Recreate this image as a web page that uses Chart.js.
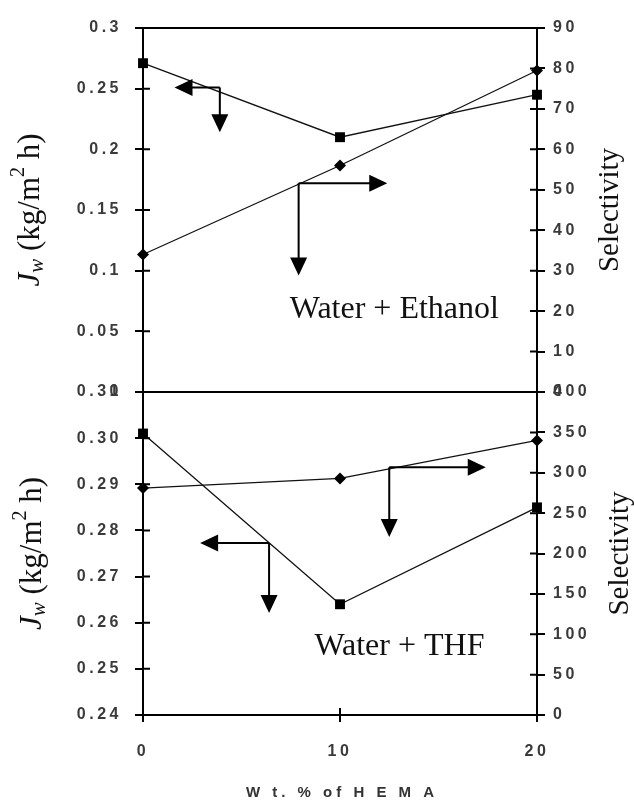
<!DOCTYPE html>
<html>
<head>
<meta charset="utf-8">
<script src="https://cdn.jsdelivr.net/npm/chart.js@4.4.0/dist/chart.umd.min.js"></script>
<style>
  body { margin: 0; background: #fff; }
  #wrap { position: relative; width: 634px; height: 803px; }
  canvas { position: absolute; left: 0; }
  #top { top: 0; }
  #bottom { top: 362px; }
</style>
</head>
<body>
<div id="wrap">
  <canvas id="top" width="634" height="422"></canvas>
  <canvas id="bottom" width="634" height="441"></canvas>
</div>
<script>
// wt.% of HEMA
const hema = [0, 10, 20];
// water + ethanol
const fluxEthanol = [0.271, 0.210, 0.245];
const selEthanol = [34, 56, 79.5];
// water + THF
const fluxThf = [0.301, 0.264, 0.285];
const selThf = [281, 293, 340];

const xTicks = [0, 10, 20];

const SERIF = '"Liberation Serif", "Times New Roman", serif';
const SANS = '"Liberation Sans", Arial, sans-serif';

function pts(xs, ys) {
  return xs.map((x, i) => ({ x: x, y: ys[i] }));
}

function head(ctx, x, y, dir) {
  const L = 18, H = 8.5;
  ctx.beginPath();
  ctx.moveTo(x, y);
  if (dir == 'left') { ctx.lineTo(x + L, y - H); ctx.lineTo(x + L, y + H); }
  if (dir == 'right') { ctx.lineTo(x - L, y - H); ctx.lineTo(x - L, y + H); }
  if (dir == 'down') { ctx.lineTo(x - H, y - L); ctx.lineTo(x + H, y - L); }
  ctx.closePath();
  ctx.fill();
}

// text with sub/superscript parts, centred at 0,0
function drawParts(ctx, parts) {
  let total = 0;
  parts.forEach(p => { ctx.font = p.font; total += ctx.measureText(p.t).width; });
  let x = -total / 2;
  parts.forEach(p => {
    ctx.font = p.font;
    ctx.fillText(p.t, x, p.dy || 0);
    x += ctx.measureText(p.t).width;
  });
}

const decor = {
  id: 'decor',
  beforeDraw(chart) {
    chart.ctx.letterSpacing = '3.5px';
  },
  afterDraw(chart, args, opts) {
    const ctx = chart.ctx;
    const a = chart.chartArea;
    const xs = chart.scales.x, yl = chart.scales.yL, yr = chart.scales.yR;
    ctx.save();
    ctx.letterSpacing = '0px';
    ctx.strokeStyle = '#000';
    ctx.fillStyle = '#000';
    ctx.lineWidth = 2;
    ctx.strokeRect(a.left, a.top, a.right - a.left, a.bottom - a.top);

    // inner halves of the tick marks
    ctx.beginPath();
    yl.ticks.forEach(t => {
      const y = yl.getPixelForValue(t.value);
      ctx.moveTo(a.left, y); ctx.lineTo(a.left + 7, y);
    });
    yr.ticks.forEach(t => {
      const y = yr.getPixelForValue(t.value);
      ctx.moveTo(a.right - 7, y); ctx.lineTo(a.right, y);
    });
    if (opts.xTitle) {
      xs.ticks.forEach(t => {
        const x = xs.getPixelForValue(t.value);
        ctx.moveTo(x, a.bottom - 7); ctx.lineTo(x, a.bottom);
      });
    }
    ctx.stroke();

    // arrows pointing at the axis each curve belongs to
    opts.arrows.forEach(ar => {
      const cx = xs.getPixelForValue(ar.x), cy = yl.getPixelForValue(ar.y);
      const hx = xs.getPixelForValue(ar.hx), vy = yl.getPixelForValue(ar.vy);
      const dir = hx < cx ? 'left' : 'right';
      ctx.beginPath();
      ctx.moveTo(cx, cy); ctx.lineTo(hx + (dir == 'left' ? 10 : -10), cy);
      ctx.moveTo(cx, cy); ctx.lineTo(cx, vy - 10);
      ctx.stroke();
      head(ctx, hx, cy, dir);
      head(ctx, cx, vy, 'down');
    });

    // panel label
    ctx.fillStyle = '#111';
    ctx.font = '32px ' + SERIF;
    ctx.textAlign = 'left';
    ctx.textBaseline = 'alphabetic';
    ctx.fillText(opts.label.text, xs.getPixelForValue(opts.label.x), yl.getPixelForValue(opts.label.y));

    // axis titles
    const cy = (a.top + a.bottom) / 2;
    ctx.textAlign = 'left';
    ctx.textBaseline = 'middle';
    ctx.save();
    ctx.translate(opts.leftX, cy);
    ctx.rotate(-Math.PI / 2);
    drawParts(ctx, [
      { t: 'J', font: 'italic 31px ' + SERIF },
      { t: 'w', font: 'italic 21px ' + SERIF, dy: 6 },
      { t: ' (kg/m', font: '31px ' + SERIF },
      { t: '2', font: '20px ' + SERIF, dy: -12 },
      { t: ' h)', font: '31px ' + SERIF }
    ]);
    ctx.restore();
    ctx.save();
    ctx.translate(opts.rightX, cy);
    ctx.rotate(-Math.PI / 2);
    drawParts(ctx, [{ t: 'Selectivity', font: '29px ' + SERIF }]);
    ctx.restore();

    if (opts.xTitle) {
      ctx.fillStyle = '#333';
      ctx.font = 'bold 15px ' + SANS;
      ctx.letterSpacing = '4px';
      ctx.textAlign = 'center';
      ctx.fillText('W t. % of H E M A', (a.left + a.right) / 2 + 2, 793 - 362);
    }
    ctx.restore();
    ctx.letterSpacing = '0px';
  }
};

function makeChart(id, flux, sel, cfg) {
  const tickFont = { family: SANS, size: 16, weight: 'bold' };
  const tickColor = '#3a3a3a';
  return new Chart(document.getElementById(id), {
    type: 'line',
    data: {
      datasets: [
        {
          data: pts(hema, flux), yAxisID: 'yL', clip: false,
          borderColor: '#111', borderWidth: 1.3, backgroundColor: '#000',
          pointStyle: 'rect', pointRadius: 7, pointBorderWidth: 0
        },
        {
          data: pts(hema, sel), yAxisID: 'yR', clip: false,
          borderColor: '#111', borderWidth: 1.3, backgroundColor: '#000',
          pointStyle: 'rectRot', pointRadius: 6, pointBorderWidth: 0
        }
      ]
    },
    options: {
      responsive: false,
      animation: false,
      layout: { padding: cfg.padding },
      plugins: { legend: { display: false }, tooltip: { enabled: false }, decor: cfg.decor },
      scales: {
        x: {
          type: 'linear', min: 0, max: 20,
          display: cfg.showX,
          afterBuildTicks: s => { s.ticks = xTicks.map(v => ({ value: v })); },
          afterFit: s => { s.height = cfg.showX ? 88 : 0; },
          border: { display: false },
          grid: { drawOnChartArea: false, drawTicks: true, tickLength: 7, color: '#000', lineWidth: 2 },
          ticks: { font: tickFont, color: tickColor, padding: 20, maxRotation: 0 }
        },
        yL: {
          position: 'left', min: cfg.left.min, max: cfg.left.max,
          afterFit: s => { s.width = 143; },
          border: { display: false },
          grid: { drawOnChartArea: false, drawTicks: true, tickLength: 8, color: '#000', lineWidth: 2 },
          ticks: { stepSize: cfg.left.step, font: tickFont, color: tickColor, padding: 13, callback: cfg.left.fmt }
        },
        yR: {
          position: 'right', min: cfg.right.min, max: cfg.right.max,
          afterFit: s => { s.width = 97; },
          border: { display: false },
          grid: { drawOnChartArea: false, drawTicks: true, tickLength: 8, color: '#000', lineWidth: 2 },
          ticks: { stepSize: cfg.right.step, font: tickFont, color: tickColor, padding: 8 }
        }
      }
    },
    plugins: [decor]
  });
}

makeChart('top', fluxEthanol, selEthanol, {
  padding: { top: 28, bottom: 30, left: 0, right: 0 },
  showX: false,
  left: { min: 0, max: 0.3, step: 0.05, fmt: v => String(+v.toFixed(2)) },
  right: { min: 0, max: 90, step: 10 },
  decor: {
    arrows: [
      { x: 3.9, y: 0.251, hx: 1.6, vy: 0.214 },
      { x: 7.9, y: 0.172, hx: 12.4, vy: 0.096 }
    ],
    label: { text: 'Water + Ethanol', x: 7.45, y: 0.061 },
    leftX: 31, rightX: 610, xTitle: false
  }
});

makeChart('bottom', fluxThf, selThf, {
  padding: { top: 30, bottom: 0, left: 0, right: 0 },
  showX: true,
  left: { min: 0.24, max: 0.31, step: 0.01, fmt: v => v.toFixed(2) },
  right: { min: 0, max: 400, step: 50 },
  decor: {
    arrows: [
      { x: 6.4, y: 0.2773, hx: 2.9, vy: 0.2621 },
      { x: 12.5, y: 0.2937, hx: 17.4, vy: 0.2786 }
    ],
    label: { text: 'Water + THF', x: 8.7, y: 0.253 },
    leftX: 33, rightX: 620, xTitle: true
  }
});
</script>
</body>
</html>
